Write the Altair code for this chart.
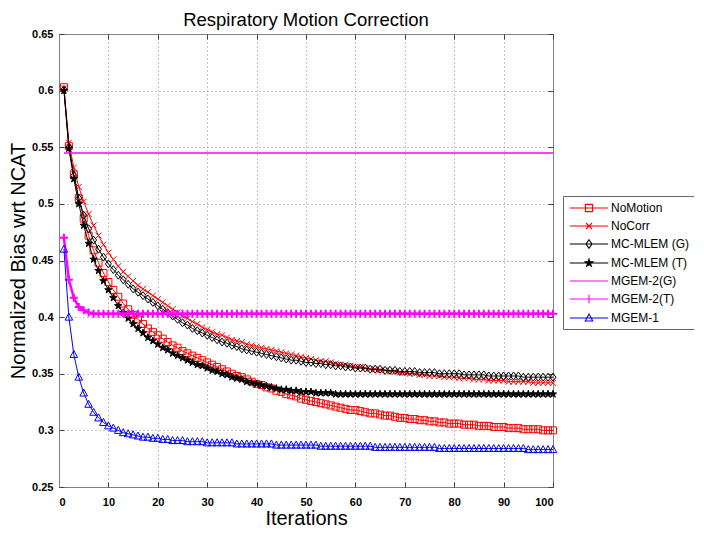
import altair as alt
import pandas as pd

# ---------------- data ----------------
ITER = list(range(1, 101))

NOMOTION = [
    .603, .551, .526, .505, .487, .472, .459, .448, .439, .431,
    .424, .418, .412, .407, .402, .398, .394, .390, .387, .384,
    .381, .378, .375, .373, .370, .368, .366, .364, .362, .360,
    .358, .356, .354, .352, .350, .348, .347, .345, .343, .341,
    .340, .338, .337, .335, .334, .332, .331, .330, .328, .327,
    .326, .325, .324, .323, .322, .321, .320, .319, .318, .318,
    .317, .316, .315, .315, .314, .313, .313, .312, .311, .311,
    .310, .310, .309, .309, .308, .308, .307, .307, .306, .306,
    .306, .305, .305, .305, .304, .304, .304, .303, .303, .303,
    .302, .302, .302, .301, .301, .301, .301, .300, .300, .300]

NOCORR = [
    .602, .554, .532, .515, .502, .491, .481, .472, .464, .457,
    .451, .445, .440, .436, .432, .428, .425, .422, .419, .416,
    .413, .410, .407, .404, .401, .399, .396, .394, .391, .389,
    .387, .385, .384, .382, .380, .379, .378, .376, .375, .374,
    .373, .372, .371, .370, .369, .368, .367, .366, .365, .364,
    .363, .362, .361, .361, .360, .359, .358, .358, .357, .356,
    .356, .355, .354, .354, .353, .353, .352, .352, .351, .351,
    .350, .350, .349, .349, .348, .348, .348, .347, .347, .347,
    .346, .346, .346, .345, .345, .345, .344, .344, .344, .344,
    .343, .343, .343, .343, .343, .342, .342, .342, .342, .342]

MCMLEM_G = [
    .601, .550, .525, .505, .490, .478, .468, .460, .453, .447,
    .442, .437, .433, .429, .425, .422, .419, .416, .413, .410,
    .407, .404, .401, .398, .395, .393, .390, .388, .386, .384,
    .382, .380, .378, .377, .375, .374, .372, .371, .370, .369,
    .368, .367, .366, .365, .364, .363, .362, .362, .361, .360,
    .360, .359, .359, .358, .358, .357, .357, .356, .356, .355,
    .355, .355, .354, .354, .354, .353, .353, .353, .352, .352,
    .352, .352, .351, .351, .351, .351, .350, .350, .350, .350,
    .350, .349, .349, .349, .349, .349, .348, .348, .348, .348,
    .348, .348, .348, .347, .347, .347, .347, .347, .347, .347]

MCMLEM_T = [
    .600, .549, .522, .500, .481, .465, .451, .441, .432, .424,
    .417, .410, .404, .399, .394, .390, .386, .382, .379, .376,
    .373, .371, .368, .366, .364, .362, .360, .358, .357, .355,
    .353, .352, .350, .349, .347, .346, .345, .343, .342, .341,
    .340, .339, .338, .337, .336, .336, .335, .335, .334, .334,
    .334, .333, .333, .333, .333, .332, .332, .332, .332, .332,
    .332, .332, .332, .332, .332, .332, .332, .332, .332, .332,
    .332, .332, .332, .332, .332, .332, .332, .332, .332, .332,
    .332, .332, .332, .332, .332, .332, .332, .332, .332, .332,
    .332, .332, .332, .332, .332, .332, .332, .332, .332, .332]

MGEM2_G = [
    .545, .545, .545, .545, .545, .545, .545, .545, .545, .545,
    .545, .545, .545, .545, .545, .545, .545, .545, .545, .545,
    .545, .545, .545, .545, .545, .545, .545, .545, .545, .545,
    .545, .545, .545, .545, .545, .545, .545, .545, .545, .545,
    .545, .545, .545, .545, .545, .545, .545, .545, .545, .545,
    .545, .545, .545, .545, .545, .545, .545, .545, .545, .545,
    .545, .545, .545, .545, .545, .545, .545, .545, .545, .545,
    .545, .545, .545, .545, .545, .545, .545, .545, .545, .545,
    .545, .545, .545, .545, .545, .545, .545, .545, .545, .545,
    .545, .545, .545, .545, .545, .545, .545, .545, .545, .545]

MGEM2_T = [
    .470, .433, .417, .409, .406, .404, .403, .403, .403, .403,
    .403, .403, .403, .403, .403, .403, .403, .403, .403, .403,
    .403, .403, .403, .403, .403, .403, .403, .403, .403, .403,
    .403, .403, .403, .403, .403, .403, .403, .403, .403, .403,
    .403, .403, .403, .403, .403, .403, .403, .403, .403, .403,
    .403, .403, .403, .403, .403, .403, .403, .403, .403, .403,
    .403, .403, .403, .403, .403, .403, .403, .403, .403, .403,
    .403, .403, .403, .403, .403, .403, .403, .403, .403, .403,
    .403, .403, .403, .403, .403, .403, .403, .403, .403, .403,
    .403, .403, .403, .403, .403, .403, .403, .403, .403, .403]

MGEM1 = [
    .460, .400, .367, .347, .333, .323, .316, .311, .307, .304,
    .302, .300, .298, .297, .296, .295, .294, .294, .293, .293,
    .292, .292, .291, .291, .291, .290, .290, .290, .290, .289,
    .289, .289, .289, .289, .289, .288, .288, .288, .288, .288,
    .288, .288, .288, .287, .287, .287, .287, .287, .287, .287,
    .287, .287, .286, .286, .286, .286, .286, .286, .286, .286,
    .286, .286, .286, .285, .285, .285, .285, .285, .285, .285,
    .285, .285, .285, .285, .285, .285, .284, .284, .284, .284,
    .284, .284, .284, .284, .284, .284, .284, .284, .284, .284,
    .284, .284, .284, .284, .283, .283, .283, .283, .283, .283]

SERIES = ["NoMotion", "NoCorr", "MC-MLEM (G)", "MC-MLEM (T)",
          "MGEM-2(G)", "MGEM-2(T)", "MGEM-1"]
VALUES = [NOMOTION, NOCORR, MCMLEM_G, MCMLEM_T, MGEM2_G, MGEM2_T, MGEM1]

XTICKS = [0, 10, 20, 30, 40, 50, 60, 70, 80, 90, 100]
YTICKS = [0.25, 0.3, 0.35, 0.4, 0.45, 0.5, 0.55, 0.6, 0.65]

# ---------------- styles ----------------
COLORS = ["#ff0000", "#ff0000", "#000000", "#000000", "#ff00ff", "#ff00ff", "#0000ff"]
LINE_W = [1, 1, 1, 1, 1.5, 2.5, 1]
SQUARE = "M-1,-1L1,-1L1,1L-1,1Z"
XMARK = "M-1,-1L1,1M-1,1L1,-1"
DIAMOND = "M0,-1L0.75,0L0,1L-0.75,0Z"
STAR = ("M0,-1L0.2245,-0.309L0.9511,-0.309L0.3633,0.118L0.5878,0.809L0,0.382"
        "L-0.5878,0.809L-0.3633,0.118L-0.9511,-0.309L-0.2245,-0.309Z")
PLUS = "M-1,0L1,0M0,-1L0,1"
TRI = "M0,-1L0.95,0.75L-0.95,0.75Z"
MARKERS = [SQUARE, XMARK, DIAMOND, STAR, None, PLUS, TRI]
MSIZE = [49, 36, 64, 60, 0, 64, 64]
MSTROKE = [1, 1, 1, 1, 1, 2, 1]
MFILLED = [False, False, False, True, False, False, False]

# legend glyphs: symbol box is 12px (r = 6px); line spans +-19px
LINE = "M-3.2,0L3.2,0"
LEG_PATHS = [
    LINE + "M-0.6,-0.6L0.6,-0.6L0.6,0.6L-0.6,0.6Z",
    LINE + "M-0.5,-0.5L0.5,0.5M-0.5,0.5L0.5,-0.5",
    LINE + "M0,-0.7L0.5,0L0,0.7L-0.5,0Z",
    LINE + "M0,-0.65L0.146,-0.2L0.618,-0.2L0.236,0.077L0.382,0.526L0,0.248"
           "L-0.382,0.526L-0.236,0.077L-0.618,-0.2L-0.146,-0.2Z",
    LINE,
    LINE + "M0,-0.7L0,0.7",
    LINE + "M0,-0.65L0.62,0.5L-0.62,0.5Z",
]
LEG_FILL = ["transparent", "transparent", "transparent", "#000000",
            "transparent", "transparent", "transparent"]
LEG_SW = [1.1, 1.1, 1, 1, 1.5, 2.5, 1.1]

FONT = "Liberation Sans"

rows = []
for s, vals in zip(SERIES, VALUES):
    for it, v in zip(ITER, vals):
        rows.append({"series": s, "it": it, "val": v})
df = pd.DataFrame(rows)

XSCALE = alt.Scale(domain=[0, 100], nice=False)
YSCALE = alt.Scale(domain=[0.25, 0.65], nice=False, zero=False)

x = alt.X("it:Q", scale=XSCALE,
          axis=alt.Axis(values=XTICKS, format="d", title="Iterations",
                        titleFontSize=20, labelPadding=9, titlePadding=1))
y = alt.Y("val:Q", scale=YSCALE,
          axis=alt.Axis(values=YTICKS, format=".2~f", title="Normalized Bias wrt NCAT",
                        titleFontSize=20, labelPadding=6, titlePadding=3))

layers = []
for i, s in enumerate(SERIES):
    base = alt.Chart(df).transform_filter(alt.datum.series == s)
    layers.append(
        base.mark_line(color=COLORS[i], strokeWidth=LINE_W[i], opacity=1)
        .encode(x=x, y=y, order="it:Q")
    )
    if MARKERS[i]:
        layers.append(
            base.mark_point(shape=MARKERS[i], size=MSIZE[i], filled=MFILLED[i],
                            stroke=COLORS[i],
                            fill=COLORS[i] if MFILLED[i] else "transparent",
                            strokeWidth=MSTROKE[i], opacity=1)
            .encode(x=x, y=y)
        )

leg = alt.Legend(orient="none", legendX=504, legendY=162, title=None,
                 symbolSize=144, symbolOffset=14, labelFontSize=12, labelFont=FONT,
                 labelColor="black", strokeColor="#666666", fillColor="white",
                 padding=5, rowPadding=5, labelOffset=15)

legend_layer = (
    alt.Chart(df).transform_filter("datum.it < 0")
    .mark_point(filled=False, opacity=1)
    .encode(
        x=x, y=y,
        shape=alt.Shape("series:N", scale=alt.Scale(domain=SERIES, range=LEG_PATHS), legend=leg),
        stroke=alt.Stroke("series:N", scale=alt.Scale(domain=SERIES, range=COLORS), legend=leg),
        fill=alt.Fill("series:N", scale=alt.Scale(domain=SERIES, range=LEG_FILL), legend=leg),
        strokeWidth=alt.StrokeWidth("series:N", scale=alt.Scale(domain=SERIES, range=LEG_SW), legend=leg),
    )
)
layers.append(legend_layer)

main = alt.layer(*layers)


def tick_layer(xorient, yorient):
    tick_axis = dict(labels=False, title=None, grid=False, domain=False, ticks=True,
                     tickSize=5, offset=-5, tickColor="#404040", tickWidth=1)
    return (
        alt.Chart(df).transform_filter("datum.it < 0").mark_point(opacity=0)
        .encode(
            x=alt.X("it:Q", scale=XSCALE, axis=alt.Axis(orient=xorient, values=XTICKS, **tick_axis)),
            y=alt.Y("val:Q", scale=YSCALE, axis=alt.Axis(orient=yorient, values=YTICKS, **tick_axis)),
        )
    )


chart = (
    alt.layer(main, tick_layer("bottom", "left"), tick_layer("top", "right"))
    .resolve_scale(x="independent", y="independent")
    .resolve_axis(x="independent", y="independent")
    .properties(
        width=494, height=453,
        title=alt.TitleParams("Respiratory Motion Correction", fontSize=18.5, font=FONT,
                              fontWeight="normal", color="black", anchor="middle", offset=-1),
        autosize=alt.AutoSizeParams(type="none"),
        padding={"left": 51, "right": 141, "top": 26, "bottom": 40},
    )
    .configure_view(stroke="#808080", strokeWidth=1)
    .configure_axis(
        labelFont=FONT, labelFontSize=11, labelFontWeight="bold", labelColor="black",
        titleFont=FONT, titleFontWeight="normal", titleColor="black",
        grid=True, gridDash=[1, 3], gridColor="#8c8c8c", gridOpacity=1, gridWidth=1,
        domainColor="#808080", domainWidth=1, ticks=False, tickSize=0,
    )
)

chart.save("out.html", embed_options={"renderer": "svg", "actions": False})
